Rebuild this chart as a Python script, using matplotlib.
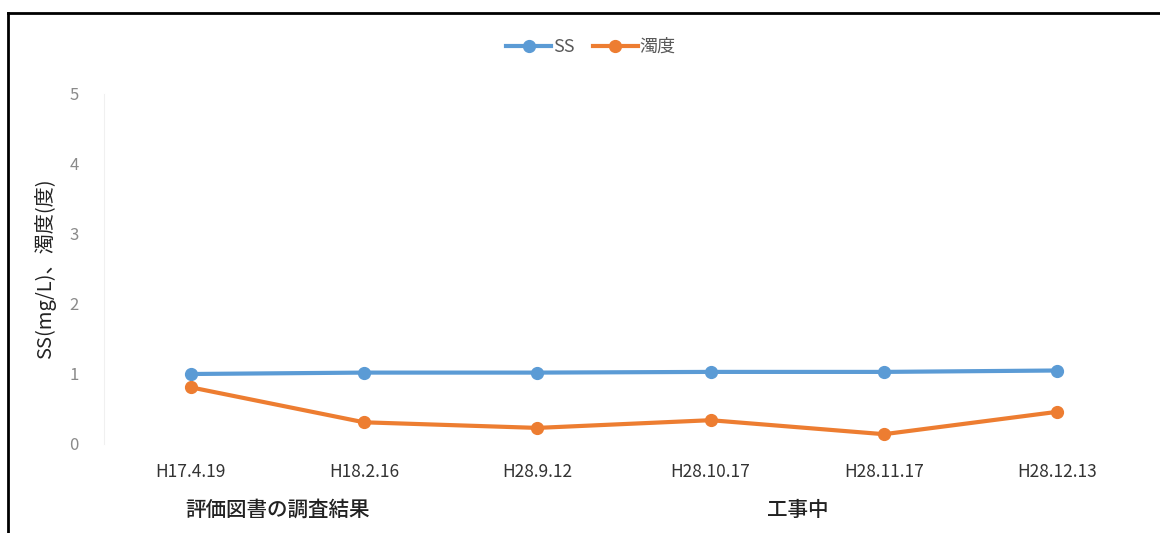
import numpy as np
import matplotlib.pyplot as plt
from matplotlib.lines import Line2D

plt.rcParams['font.family'] = ['Noto Sans CJK JP', 'DejaVu Sans']

dates = ['H17.4.19', 'H18.2.16', 'H28.9.12', 'H28.10.17', 'H28.11.17', 'H28.12.13']
ss = [1.0, 1.02, 1.02, 1.03, 1.03, 1.05]
turbidity = [0.81, 0.31, 0.23, 0.34, 0.14, 0.46]
groups = ['評価図書の調査結果', '工事中']
group_spans = [(0, 1), (2, 5)]

W, H = 1160, 533
fig = plt.figure(figsize=(W / 100, H / 100), dpi=100)
ax = fig.add_axes([104 / W, 1 - 444 / H, (1144 - 104) / W, (444 - 94) / H])

x = np.arange(len(dates))
ax.plot(x, ss, color='#5b9bd5', lw=3, marker='o', ms=8.5, label='SS')
ax.plot(x, turbidity, color='#ed7d31', lw=3, marker='o', ms=8.5, label='濁度')

ax.set_xlim(-0.5, len(dates) - 0.5)
ax.set_ylim(0, 5)
ax.set_yticks(range(6))
ax.set_xticks(x)
ax.set_xticklabels(dates, fontsize=12.5, color='#333333')
ax.tick_params(axis='x', length=0, pad=14)
ax.tick_params(axis='y', length=0, pad=18, labelsize=12, labelcolor='#8a8a8a')
for s in ['top', 'right', 'bottom']:
    ax.spines[s].set_visible(False)
ax.spines['left'].set_color('#f0f0f0')
ax.set_ylabel('SS(mg/L)、濁度(度)', fontsize=14.5, color='#222222', labelpad=10)

# group labels under the dates
for name, (a, b) in zip(groups, group_spans):
    ax.annotate(name, xy=((a + b) / 2, 0), xycoords=('data', 'axes fraction'),
                xytext=(0, -47.5), textcoords='offset points', ha='center', va='center',
                fontsize=14.8, fontweight='medium', color='#222222')

leg = fig.legend(loc='center', bbox_to_anchor=(591 / W, 1 - 47 / H), ncol=2, frameon=False,
                 fontsize=13, handlelength=2.5, columnspacing=1.0, handletextpad=0.1)
for t in leg.get_texts():
    t.set_color('#595959')

# outer frame (cut off right and bottom)
fig.add_artist(Line2D([8 / W, 1], [1 - 13 / H, 1 - 13 / H], color='black', lw=2))
fig.add_artist(Line2D([8 / W, 8 / W], [0, 1 - 13 / H], color='black', lw=2))

fig.savefig('out.png', dpi=100)
